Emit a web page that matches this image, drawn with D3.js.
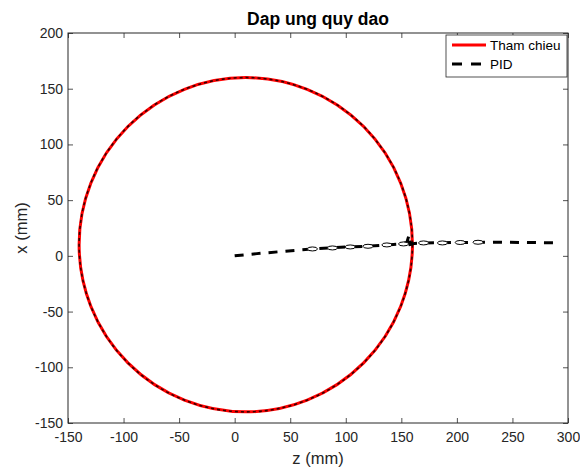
<!DOCTYPE html>
<html>
<head>
<meta charset="utf-8">
<script src="https://cdn.jsdelivr.net/npm/d3@7"></script>
<style>
	body { margin: 0; background: #fff; }
	svg { font-family: "Liberation Sans", Arial, Helvetica, sans-serif; }
</style>
</head>
<body>
<script>
'use strict';

// reference trajectory: circle (center z, center x, radius) in mm
const refCenter = [10, 10];
const refRadius = 150;

// PID response, straight part from origin (z, x) in mm
const pidZ = [0, 20, 40, 60, 80, 100, 120, 140, 150, 155, 157, 158, 156, 159, 162, 170, 200, 240, 290];
const pidX = [0, 2.0, 3.7, 5.4, 6.9, 7.9, 8.7, 10.0, 10.7, 12, 19, 9, 16, 10.5, 11.2, 11.6, 12.0, 12.2, 11.7];

// small oscillation loops along the PID line (z, x)
const loopZ = [70, 88, 104, 120, 137, 152, 170, 187, 203, 219];
const loopX = [6.2, 7.1, 8.0, 8.6, 9.8, 10.7, 11.6, 11.6, 12.0, 12.2];

const xTicks = [-150, -100, -50, 0, 50, 100, 150, 200, 250, 300];
const yTicks = [-150, -100, -50, 0, 50, 100, 150, 200];
const legendNames = ["Tham chieu", "PID"];

const params = {
	left: 68,
	top: 33,
	width: 500,
	height: 390,
	W: 580,
	H: 470
};

const ink = "#262626";

const svg = d3.select("body").append("svg")
	.attr("width", params.W)
	.attr("height", params.H);

const xScale = d3.scaleLinear().domain([-150, 300]).range([params.left, params.left + params.width]);
const yScale = d3.scaleLinear().domain([-150, 200]).range([params.top + params.height, params.top]);

const bottom = params.top + params.height;
const right = params.left + params.width;

// clip to axes box
svg.append("clipPath").attr("id", "clip")
	.append("rect")
	.attr("x", params.left).attr("y", params.top)
	.attr("width", params.width).attr("height", params.height);

const plot = svg.append("g").attr("clip-path", "url(#clip)");

// reference circle
plot.append("ellipse")
	.attr("cx", xScale(refCenter[0]))
	.attr("cy", yScale(refCenter[1]))
	.attr("rx", xScale(refCenter[0] + refRadius) - xScale(refCenter[0]))
	.attr("ry", yScale(refCenter[1]) - yScale(refCenter[1] + refRadius))
	.attr("fill", "none")
	.attr("stroke", "#ff0000")
	.attr("stroke-width", 3);

// PID tracking the circle (dashed over the red)
plot.append("ellipse")
	.attr("cx", xScale(refCenter[0]))
	.attr("cy", yScale(refCenter[1]))
	.attr("rx", xScale(refCenter[0] + refRadius) - xScale(refCenter[0]))
	.attr("ry", yScale(refCenter[1]) - yScale(refCenter[1] + refRadius))
	.attr("fill", "none")
	.attr("stroke", "#000")
	.attr("stroke-opacity", 0.8)
	.attr("stroke-width", 1.6)
	.attr("stroke-dasharray", "3,3");

// PID line
const pid = pidZ.map((z, i) => [z, pidX[i]]);
const line = d3.line()
	.x(d => xScale(d[0]))
	.y(d => yScale(d[1]));

plot.append("path")
	.attr("d", line(pid))
	.attr("fill", "none")
	.attr("stroke", "#000")
	.attr("stroke-width", 3)
	.attr("stroke-dasharray", "9,8");

// oscillation loops
plot.selectAll(".loop")
	.data(loopZ.map((z, i) => [z, loopX[i]]))
	.join("ellipse")
	.attr("class", "loop")
	.attr("cx", d => xScale(d[0]))
	.attr("cy", d => yScale(d[1]))
	.attr("rx", 5)
	.attr("ry", 2)
	.attr("fill", "#fff")
	.attr("stroke", "#000")
	.attr("stroke-width", 1);

// axes
const styleAxis = g => {
	g.select(".domain").remove();
	g.selectAll("line").attr("stroke", ink).attr("stroke-width", 0.8);
	g.selectAll("text").attr("fill", ink).attr("font-size", "14px")
		.attr("font-family", '"Liberation Sans", Arial, sans-serif');
};
const fmt = d => String(d);

svg.append("g")
	.attr("transform", `translate(0,${bottom})`)
	.call(d3.axisBottom(xScale).tickValues(xTicks).tickFormat(fmt).tickSizeInner(-5).tickSizeOuter(0).tickPadding(9))
	.call(styleAxis);

svg.append("g")
	.attr("transform", `translate(0,${params.top})`)
	.call(d3.axisTop(xScale).tickValues(xTicks).tickSizeInner(-5).tickSizeOuter(0).tickFormat(""))
	.call(styleAxis);

svg.append("g")
	.attr("transform", `translate(${params.left},0)`)
	.call(d3.axisLeft(yScale).tickValues(yTicks).tickFormat(fmt).tickSizeInner(-5).tickSizeOuter(0).tickPadding(5))
	.call(styleAxis);

svg.append("g")
	.attr("transform", `translate(${right},0)`)
	.call(d3.axisRight(yScale).tickValues(yTicks).tickSizeInner(-5).tickSizeOuter(0).tickFormat(""))
	.call(styleAxis);

// box
svg.append("rect")
	.attr("x", params.left).attr("y", params.top)
	.attr("width", params.width).attr("height", params.height)
	.attr("fill", "none")
	.attr("stroke", ink)
	.attr("stroke-width", 1);

// title and labels
svg.append("text")
	.attr("x", params.left + params.width / 2)
	.attr("y", 25)
	.attr("text-anchor", "middle")
	.attr("font-weight", "bold")
	.attr("font-size", "17.5px")
	.attr("fill", "#000")
	.text("Dap ung quy dao");

svg.append("text")
	.attr("x", params.left + params.width / 2)
	.attr("y", 464)
	.attr("text-anchor", "middle")
	.attr("font-size", "16.5px")
	.attr("fill", ink)
	.text("z (mm)");

svg.append("text")
	.attr("transform", `translate(27,${params.top + params.height / 2}) rotate(-90)`)
	.attr("text-anchor", "middle")
	.attr("font-size", "16.5px")
	.attr("fill", ink)
	.text("x (mm)");

// legend
const legend = svg.append("g").attr("transform", "translate(446,35)");
legend.append("rect")
	.attr("width", 121).attr("height", 42)
	.attr("fill", "#fff")
	.attr("stroke", ink)
	.attr("stroke-width", 0.8);

const legendStyles = [
	{ stroke: "#ff0000", dash: null },
	{ stroke: "#000", dash: "10,9" }
];

legendNames.forEach((name, i) => {
	const y = 10 + i * 19;
	legend.append("line")
		.attr("x1", 6).attr("x2", 40)
		.attr("y1", y).attr("y2", y)
		.attr("stroke", legendStyles[i].stroke)
		.attr("stroke-width", 3)
		.attr("stroke-dasharray", legendStyles[i].dash);
	legend.append("text")
		.attr("x", 44)
		.attr("y", y + 5)
		.attr("font-size", "13.5px")
		.attr("fill", "#000")
		.text(name);
});
</script>
</body>
</html>
